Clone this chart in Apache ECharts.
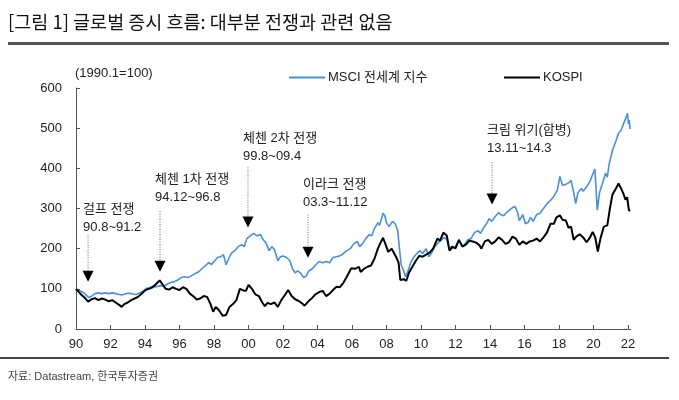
<!DOCTYPE html>
<html><head><meta charset="utf-8">
<script src="https://cdn.jsdelivr.net/npm/echarts@6/dist/echarts.min.js"></script>
<style>html,body{margin:0;padding:0;background:#fff}#c{width:679px;height:400px}</style>
</head><body><div id="c"></div>
<script>
const seriesNames = ['MSCI 전세계 지수', 'KOSPI'];
const xTicks = [1990,1992,1994,1996,1998,2000,2002,2004,2006,2008,2010,2012,2014,2016,2018,2020,2022];
const yTicks = [0,100,200,300,400,500,600];
const msci = [
[1990.0,100],[1990.2,95],[1990.45,90],[1990.75,78],[1990.9,82],[1991.1,88],[1991.3,90],[1991.5,88],[1991.7,90],[1991.9,88],
[1992.1,90],[1992.3,88],[1992.5,86],[1992.7,85],[1992.9,88],[1993.1,89],[1993.3,87],[1993.5,86],[1993.7,90],[1993.9,95],
[1994.1,102],[1994.3,100],[1994.5,104],[1994.7,106],[1994.9,108],[1995.1,107],[1995.3,112],[1995.5,116],[1995.7,118],[1995.9,122],
[1996.1,128],[1996.3,130],[1996.5,128],[1996.7,133],[1996.9,138],[1997.1,142],[1997.3,150],[1997.5,158],[1997.7,165],[1997.85,160],
[1998.0,168],[1998.2,178],[1998.4,180],[1998.55,185],[1998.7,160],[1998.85,175],[1999.0,188],[1999.2,195],[1999.4,205],[1999.6,210],
[1999.75,205],[1999.9,225],[2000.1,232],[2000.3,238],[2000.5,232],[2000.7,235],[2000.85,222],[2001.0,215],[2001.2,195],[2001.35,205],
[2001.5,198],[2001.7,170],[2001.85,180],[2002.0,182],[2002.2,178],[2002.4,170],[2002.55,150],[2002.7,140],[2002.85,145],[2003.0,140],
[2003.2,128],[2003.35,132],[2003.5,145],[2003.7,150],[2003.9,160],[2004.1,168],[2004.3,165],[2004.5,168],[2004.7,165],[2004.9,178],
[2005.1,180],[2005.3,182],[2005.5,188],[2005.7,195],[2005.9,200],[2006.1,212],[2006.3,218],[2006.45,205],[2006.6,212],[2006.8,225],
[2007.0,235],[2007.15,232],[2007.3,250],[2007.5,265],[2007.6,258],[2007.8,288],[2007.9,282],[2008.0,265],[2008.15,255],[2008.35,268],
[2008.5,262],[2008.65,245],[2008.75,200],[2008.85,160],[2008.95,150],[2009.1,130],[2009.25,145],[2009.4,165],[2009.6,180],[2009.8,190],
[2009.95,195],[2010.1,188],[2010.3,200],[2010.45,180],[2010.6,188],[2010.8,205],[2011.0,215],[2011.2,222],[2011.35,228],[2011.5,222],
[2011.65,195],[2011.8,200],[2012.0,205],[2012.2,222],[2012.4,205],[2012.55,212],[2012.7,222],[2012.9,225],[2013.1,240],[2013.3,245],
[2013.45,238],[2013.6,250],[2013.8,262],[2013.95,275],[2014.1,268],[2014.3,280],[2014.5,290],[2014.6,285],[2014.8,282],[2014.95,290],
[2015.1,295],[2015.3,302],[2015.45,305],[2015.6,290],[2015.7,270],[2015.9,285],[2016.05,262],[2016.2,265],[2016.35,278],[2016.5,268],
[2016.7,285],[2016.9,288],[2017.1,300],[2017.3,312],[2017.5,320],[2017.7,330],[2017.9,345],[2018.05,380],[2018.2,358],[2018.4,360],
[2018.6,365],[2018.7,370],[2018.85,340],[2018.97,312],[2019.1,340],[2019.3,350],[2019.4,343],[2019.6,354],[2019.8,368],[2019.95,385],
[2020.08,398],[2020.22,296],[2020.35,340],[2020.5,360],[2020.7,388],[2020.8,378],[2020.9,410],[2021.1,445],[2021.3,468],[2021.45,488],
[2021.6,495],[2021.75,512],[2021.9,528],[2021.97,537],[2022.03,510],[2022.07,520],[2022.12,498]
];
const kospi = [
[1990.0,100],[1990.25,88],[1990.5,78],[1990.7,68],[1990.9,74],[1991.1,77],[1991.3,72],[1991.5,76],[1991.7,73],[1991.9,69],
[1992.1,72],[1992.3,66],[1992.5,60],[1992.65,55],[1992.8,62],[1993.0,66],[1993.2,72],[1993.4,76],[1993.6,80],[1993.8,88],
[1994.0,96],[1994.2,100],[1994.4,104],[1994.6,110],[1994.85,121],[1995.0,112],[1995.2,100],[1995.4,98],[1995.6,104],[1995.8,100],
[1996.0,97],[1996.2,104],[1996.4,100],[1996.6,88],[1996.85,80],[1997.0,73],[1997.2,76],[1997.4,82],[1997.6,80],[1997.8,62],
[1997.95,43],[1998.1,55],[1998.3,46],[1998.5,33],[1998.7,35],[1998.9,55],[1999.1,62],[1999.3,72],[1999.5,100],[1999.7,96],
[1999.85,95],[2000.0,110],[2000.2,100],[2000.4,86],[2000.6,82],[2000.8,66],[2000.95,57],[2001.1,65],[2001.3,62],[2001.5,66],
[2001.7,55],[2001.9,72],[2002.1,84],[2002.3,97],[2002.5,82],[2002.7,74],[2002.9,70],[2003.1,64],[2003.25,58],[2003.5,70],
[2003.7,78],[2003.9,87],[2004.1,92],[2004.3,95],[2004.5,82],[2004.7,88],[2004.9,97],[2005.1,105],[2005.3,104],[2005.5,115],
[2005.7,130],[2005.95,151],[2006.2,150],[2006.4,155],[2006.5,142],[2006.7,150],[2006.9,155],[2007.1,158],[2007.3,175],[2007.5,200],
[2007.6,210],[2007.8,227],[2007.95,210],[2008.1,192],[2008.3,200],[2008.4,204],[2008.55,180],[2008.7,165],[2008.8,122],[2008.9,118],
[2009.0,124],[2009.15,120],[2009.3,140],[2009.5,155],[2009.7,170],[2009.9,182],[2010.1,180],[2010.3,185],[2010.5,190],[2010.7,200],
[2010.95,225],[2011.1,220],[2011.3,240],[2011.5,232],[2011.65,195],[2011.8,205],[2012.0,201],[2012.2,222],[2012.4,205],[2012.6,210],
[2012.8,220],[2013.0,218],[2013.2,215],[2013.4,208],[2013.5,200],[2013.7,218],[2013.9,222],[2014.1,212],[2014.3,218],[2014.5,228],
[2014.7,222],[2014.9,212],[2015.1,216],[2015.3,230],[2015.5,225],[2015.7,210],[2015.9,218],[2016.1,212],[2016.3,218],[2016.5,220],
[2016.7,225],[2016.9,218],[2017.1,228],[2017.3,240],[2017.5,262],[2017.7,262],[2017.85,278],[2018.05,283],[2018.2,272],[2018.4,270],
[2018.55,252],[2018.7,255],[2018.85,222],[2019.0,230],[2019.2,236],[2019.4,228],[2019.6,216],[2019.8,228],[2019.95,242],[2020.1,228],
[2020.25,193],[2020.4,225],[2020.6,255],[2020.8,258],[2020.95,300],[2021.1,335],[2021.3,350],[2021.45,362],[2021.6,350],[2021.75,335],
[2021.85,322],[2021.95,328],[2022.05,296],[2022.12,294]
];
// annotation texts and the dates their arrows mark
const annoTitles = ['걸프 전쟁', '체첸 1차 전쟁', '체첸 2차 전쟁', '이라크 전쟁', '크림 위기(합병)'];
const annoRanges = ['90.8~91.2', '94.12~96.8', '99.8~09.4', '03.3~11.12', '13.11~14.3'];
const annoYears = [1990.70, 1994.87, 1999.97, 2003.45, 2014.12];

// annotation layout (values on the y scale for tip / dotted-line top / second text line)
const annoLayout = [
  {tip:117.5, top:235, txt:252.5},
  {tip:142.5, top:292.5, txt:327.5},
  {tip:252.5, top:402.5, txt:430},
  {tip:177.5, top:285, txt:315},
  {tip:310, top:415, txt:450}
];

const FONT = '"Liberation Sans", "Noto Sans CJK KR", sans-serif';
const chart = echarts.init(document.getElementById('c'), null, {renderer:'canvas'});
const opt = {
  animation:false,
  backgroundColor:'#fff',
  textStyle:{fontFamily:FONT},
  grid:{left:76, right:48.4, top:88, bottom:71, containLabel:false},
  legend:[
    {data:[seriesNames[0]], left:284, top:66, icon:'rect', itemWidth:36, itemHeight:2, itemGap:4,
     textStyle:{fontSize:13, color:'#222', fontFamily:FONT, padding:[0,0,0,-2]}},
    {data:[seriesNames[1]], left:499, top:66, icon:'rect', itemWidth:36, itemHeight:2, itemGap:4,
     textStyle:{fontSize:13, color:'#222', fontFamily:FONT, padding:[0,0,0,-2]}}
  ],
  xAxis:{type:'value', min:1990, max:2022.15,
    axisLine:{show:true, lineStyle:{color:'#555', width:1}},
    axisTick:{show:true, inside:true, length:4, customValues:xTicks, lineStyle:{color:'#555'}},
    axisLabel:{customValues:xTicks, color:'#222', fontSize:13, fontFamily:FONT, margin:9,
      formatter:v=>String(Math.round(v)%100).padStart(2,'0')},
    splitLine:{show:false}},
  yAxis:{type:'value', min:0, max:600, interval:100,
    axisLine:{show:true, lineStyle:{color:'#555', width:1}},
    axisTick:{show:true, inside:true, length:4, lineStyle:{color:'#555'}},
    axisLabel:{color:'#222', fontSize:13, fontFamily:FONT, margin:14},
    splitLine:{show:false}},
  series:[
    {name:seriesNames[0], type:'line', data:msci, showSymbol:false, clip:false,
     lineStyle:{color:'#4a8fdb', width:1.6}, itemStyle:{color:'#4a8fdb'}, z:2},
    {name:seriesNames[1], type:'line', data:kospi, showSymbol:false, clip:false,
     lineStyle:{color:'#000', width:2}, itemStyle:{color:'#000'}, z:3}
  ]
};
chart.setOption(opt);

const g = [
  {type:'text', left:8, top:13, style:{text:'[그림 1] 글로벌 증시 흐름: 대부분 전쟁과 관련 없음', fontSize:18.5, fill:'#111', fontFamily:'"Noto Sans CJK KR", sans-serif'}},
  {type:'rect', shape:{x:8, y:42, width:661, height:3}, style:{fill:'#555'}},
  {type:'text', left:75, top:67, style:{text:'(1990.1=100)', fontSize:13, fill:'#222', fontFamily:FONT}},
  {type:'rect', shape:{x:0, y:357, width:669, height:2}, style:{fill:'#444'}},
  {type:'text', left:8, top:371, style:{text:'자료: Datastream, 한국투자증권', fontSize:11, fill:'#444', fontFamily:FONT}}
];
annoTitles.forEach((t,i)=>{
  const L = annoLayout[i];
  const [x, tipY] = chart.convertToPixel({gridIndex:0}, [annoYears[i], L.tip]);
  const topY = chart.convertToPixel({gridIndex:0}, [annoYears[i], L.top])[1];
  const txtY = chart.convertToPixel({gridIndex:0}, [annoYears[i], L.txt])[1];
  g.push({type:'line', shape:{x1:x, y1:topY, x2:x, y2:tipY-11}, style:{stroke:'#666', lineWidth:1, lineDash:[1,1.5]}});
  g.push({type:'polygon', shape:{points:[[x-5.5,tipY-11],[x+5.5,tipY-11],[x,tipY]]}, style:{fill:'#000'}});
  g.push({type:'text', x:x-5, y:txtY, style:{text:annoRanges[i], fontSize:13, fill:'#222', fontFamily:FONT, verticalAlign:'middle'}});
  g.push({type:'text', x:x-5, y:txtY-18, style:{text:t, fontSize:13, fill:'#222', fontFamily:FONT, verticalAlign:'middle'}});
});
chart.setOption({graphic:g});
</script></body></html>
